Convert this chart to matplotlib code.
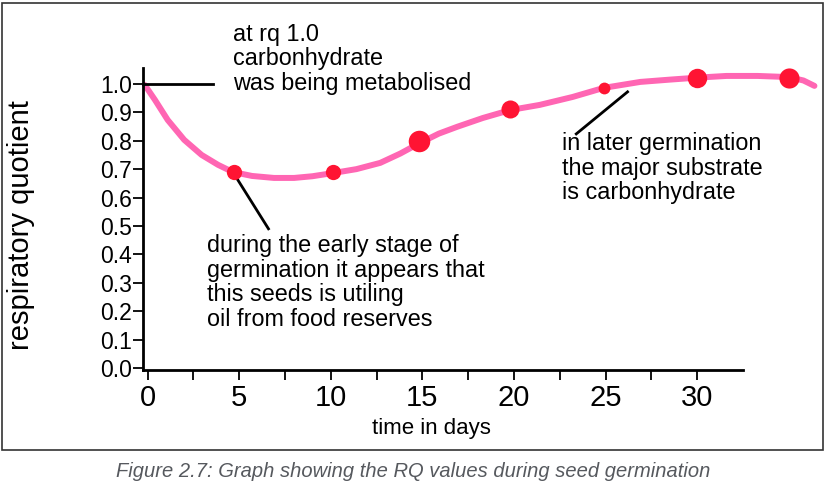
import matplotlib.pyplot as plt
from matplotlib.patches import Rectangle

plt.rcParams['font.family'] = ['Liberation Sans', 'DejaVu Sans']

# measured RQ points (days, RQ)
days = [4.7, 10.1, 14.8, 19.8, 24.9, 30.0, 35.0]
rq = [0.69, 0.69, 0.80, 0.91, 0.985, 1.02, 1.02]
dot_sizes = [11, 11, 15.5, 13, 8.5, 14, 14.5]

# hand drawn trend line
curve_days = [-0.15, 0.4, 1.1, 2.0, 2.95, 3.85, 4.65, 5.7, 6.9, 8.0, 9.0, 10.1,
              11.4, 12.7, 13.8, 14.8, 15.9, 16.9, 18.3, 19.8, 21.4, 23.2, 24.9,
              26.9, 28.5, 30.0, 31.6, 33.3, 35.0, 35.8, 36.4]
curve_rq = [0.996, 0.944, 0.873, 0.803, 0.750, 0.715, 0.690, 0.676, 0.669, 0.669,
            0.675, 0.686, 0.700, 0.722, 0.755, 0.790, 0.825, 0.849, 0.880, 0.908,
            0.926, 0.954, 0.986, 1.007, 1.015, 1.022, 1.028, 1.028, 1.024, 1.012, 0.993]

x_ticks = [0, 5, 10, 15, 20, 25, 30]
x_minor = [2.5, 7.5, 12.5, 17.5, 22.5, 27.5]
y_ticks = [0.0, 0.1, 0.2, 0.3, 0.4, 0.5, 0.6, 0.7, 0.8, 0.9, 1.0]

fig = plt.figure(figsize=(8.26, 4.93), dpi=100)
ax = fig.add_axes([0.1731, 0.2495, 0.7264, 0.6126])

ax.plot(curve_days, curve_rq, color='#ff66b3', lw=4.3, solid_capstyle='round',
        solid_joinstyle='round', clip_on=False, zorder=2)
for d, v, s in zip(days, rq, dot_sizes):
    ax.plot(d, v, 'o', color='#ff1433', ms=s, mec='none', clip_on=False, zorder=3)

ax.set_xlim(-0.25, 32.5)
ax.set_ylim(-0.007, 1.056)
ax.spines['top'].set_visible(False)
ax.spines['right'].set_visible(False)
for sp in ['left', 'bottom']:
    ax.spines[sp].set_linewidth(2)

ax.set_xticks(x_ticks)
ax.set_xticks(x_minor, minor=True)
ax.set_xticklabels([str(t) for t in x_ticks], fontsize=21)
ax.set_yticks(y_ticks)
ax.set_yticklabels(['%.1f' % t for t in y_ticks], fontsize=16.5)
ax.tick_params(axis='x', which='both', length=7, width=1.3, pad=3)
ax.tick_params(axis='y', length=7, width=1.3, pad=1)

ax.set_xlabel('time in days', fontsize=16)
ax.xaxis.set_label_coords(0.48, -0.16)
ax.set_ylabel('respiratory quotient', fontsize=21)
ax.yaxis.set_label_coords(-0.18, 0.48)

# leader lines
ax.plot([-0.27, 3.55], [1.0, 1.0], color='black', lw=2, clip_on=False)
ax.plot([4.8, 6.6], [0.675, 0.49], color='black', lw=2, clip_on=False)
ax.plot([26.2, 23.4], [0.972, 0.824], color='black', lw=2, clip_on=False)

ax.text(4.64, 1.215, 'at rq 1.0\ncarbonhydrate\nwas being metabolised',
        fontsize=16.8, va='top', ha='left', linespacing=1.08)
ax.text(3.22, 0.47, 'during the early stage of\ngermination it appears that\n'
        'this seeds is utiling\noil from food reserves',
        fontsize=16.8, va='top', ha='left', linespacing=1.08)
ax.text(22.6, 0.83, 'in later germination\nthe major substrate\nis carbonhydrate',
        fontsize=16.8, va='top', ha='left', linespacing=1.08)

fig.patches.append(Rectangle((2 / 826, 43 / 493), 821 / 826, 447 / 493,
                             transform=fig.transFigure, fill=False,
                             edgecolor='#333333', lw=1.2))
fig.text(0.5, 0.043, 'Figure 2.7: Graph showing the RQ values during seed germination',
         ha='center', va='center', fontsize=14.5, style='italic', color='#56595e')

fig.savefig('out.png', dpi=100)
